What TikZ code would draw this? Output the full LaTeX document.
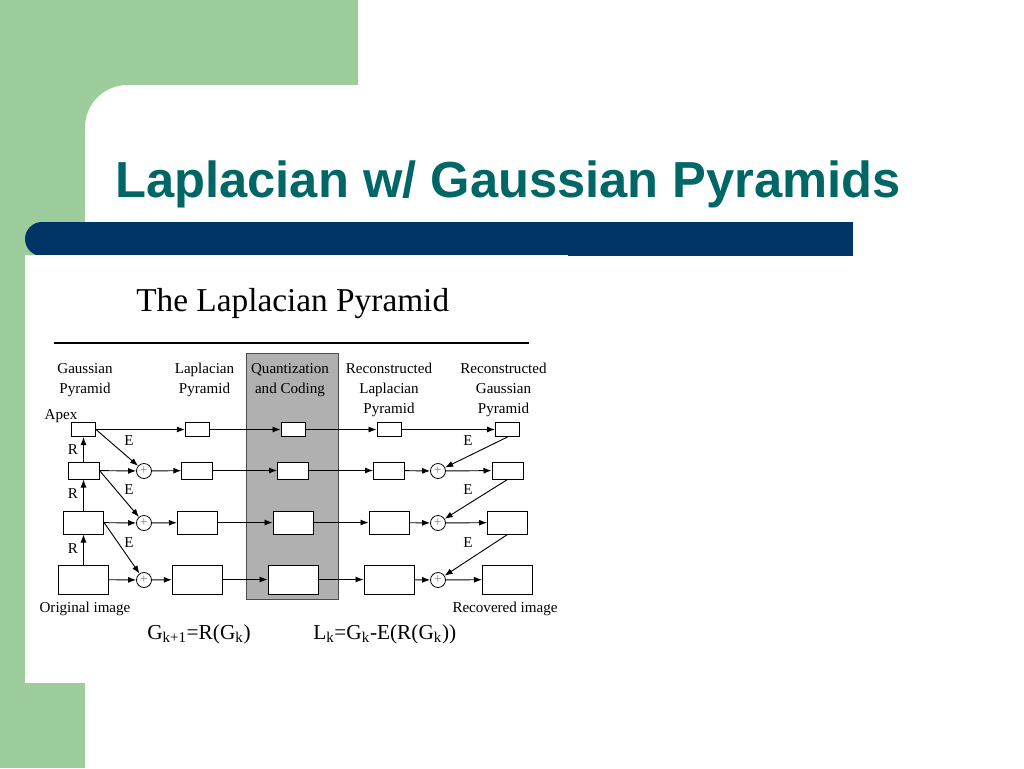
\documentclass[tikz,border=0pt]{standalone}
\usepackage{fontspec}
\setmainfont{Liberation Serif}
\newfontfamily\titlefont{Liberation Sans}
\usetikzlibrary{arrows.meta}
\definecolor{bggreen}{RGB}{157,205,157}
\definecolor{navy}{RGB}{0,51,102}
\definecolor{titleteal}{RGB}{0,102,102}
\definecolor{qgray}{RGB}{176,176,176}
\begin{document}
\begin{tikzpicture}[x=0.75pt,y=-0.75pt,
  lbl/.style={font=\fontsize{11.3}{15}\selectfont, inner sep=0pt},
  hdr/.style={lbl, anchor=base, align=center},
  box/.style={draw, fill=white, line width=0.75pt, inner sep=0pt},
  b0/.style={box, minimum width=18pt, minimum height=10.5pt},
  b1/.style={box, minimum width=23.25pt, minimum height=12.75pt},
  b2/.style={box, minimum width=30pt, minimum height=17.25pt},
  b3/.style={box, minimum width=37.5pt, minimum height=21.75pt},
  sumnode/.style={draw, circle, fill=white, line width=0.6pt, minimum size=11.25pt, inner sep=0pt, font=\fontsize{10}{10}\selectfont, text=gray},
  arr/.style={line width=0.7pt, -{Latex[length=6pt,width=4.5pt]}}
]
\useasboundingbox (0,0) rectangle (1024,768);
\clip (0,0) rectangle (1024,768);
% background
\fill[white] (0,0) rectangle (1024,768);
\fill[bggreen] (0,0) rectangle (358,85);
\fill[bggreen] (0,0) rectangle (85,768);
% green fillet at the inner corner of the white area
\fill[bggreen] (84,84) -- (127,84) -- (127,85) .. controls (104,85) and (85,104) .. (85,127) -- (84,127) -- cycle;
% navy bar
\fill[navy] (42,222) rectangle (853,256);
\fill[navy] (42,239) circle[radius=12.75pt];
% pasted figure area
\fill[white] (25,255) rectangle (568,683);
% title
\node[anchor=base west, inner sep=0pt, text=titleteal, font=\titlefont\fontsize{38}{40}\selectfont\bfseries] (title) at (115,197) {Laplacian w/ Gaussian Pyramids};
% figure title and rule
\node[anchor=base west, inner sep=0pt, font=\fontsize{25}{28}\selectfont] (ftitle) at (136,311) {The Laplacian Pyramid};
\draw[line width=1.1pt] (54,343) -- (529,343);
% gray column
\draw[fill=qgray, draw=black!70, line width=0.7pt] (246,353) rectangle (338,599);
% headers (base = last line)
\node[hdr] (hg) at (85,393) {Gaussian\\Pyramid};
\node[hdr] (hl) at (204.5,393) {Laplacian\\Pyramid};
\node[hdr] (hq) at (290,393) {Quantization\\and Coding};
\node[hdr] (hrl) at (389,413) {Reconstructed\\Laplacian\\Pyramid};
\node[hdr] (hrg) at (503.5,413) {Reconstructed\\Gaussian\\Pyramid};
% boxes
\node[b0] (g0) at (83.5,429.5) {};
\node[b1] (g1) at (83.5,470.5) {};
\node[b2] (g2) at (83.5,522.5) {};
\node[b3] (g3) at (83.5,579.5) {};
\node[b0] (l0) at (197.3,429.5) {};
\node[b1] (l1) at (197.3,470.5) {};
\node[b2] (l2) at (197.3,522.5) {};
\node[b3] (l3) at (197.3,579.5) {};
\node[b0] (q0) at (293,429.5) {};
\node[b1] (q1) at (293,470.5) {};
\node[b2] (q2) at (293,522.5) {};
\node[b3] (q3) at (293,579.5) {};
\node[b0] (rl0) at (389,429.5) {};
\node[b1] (rl1) at (389,470.5) {};
\node[b2] (rl2) at (389,522.5) {};
\node[b3] (rl3) at (389,579.5) {};
\node[b0] (rg0) at (507.5,429.5) {};
\node[b1] (rg1) at (507.5,470.5) {};
\node[b2] (rg2) at (507.5,522.5) {};
\node[b3] (rg3) at (507.5,579.5) {};
\node[sumnode] (p1) at (144,471) {+};
\node[sumnode] (p2) at (144,523) {+};
\node[sumnode] (p3) at (144,580) {+};
\node[sumnode] (pr1) at (438,471) {+};
\node[sumnode] (pr2) at (438,523) {+};
\node[sumnode] (pr3) at (438,580) {+};
% row 0
\draw[arr] (g0) -- (l0);
\draw[arr] (l0) -- (q0);
\draw[arr] (q0) -- (rl0);
\draw[arr] (rl0) -- (rg0);
% rows 1-3
\foreach \k in {1,2,3}{
  \draw[arr] (g\k) -- (p\k);
  \draw[arr] (p\k) -- (l\k);
  \draw[arr] (l\k) -- (q\k);
  \draw[arr] (q\k) -- (rl\k);
  \draw[arr] (rl\k) -- (pr\k);
  \draw[arr] (pr\k) -- (rg\k);
}
% R arrows
\draw[arr] (g1) -- (g0);
\draw[arr] (g2) -- (g1);
\draw[arr] (g3) -- (g2);
% E arrows
\draw[arr] (g0.east) -- (p1);
\draw[arr] (g1.east) -- (p2);
\draw[arr] (g2.east) -- (p3);
\draw[arr] (rg0.south) -- (pr1);
\draw[arr] (rg1.south) -- (pr2);
\draw[arr] (rg2.south) -- (pr3);
% labels
\node[lbl] (apex) at (61,416) {Apex};
\node[lbl] (r1) at (73,450) {R};
\node[lbl] (r2) at (73,494) {R};
\node[lbl] (r3) at (73,549) {R};
\node[lbl] (e1) at (129,441) {E};
\node[lbl] (e2) at (129,490) {E};
\node[lbl] (e3) at (129,543) {E};
\node[lbl] (e4) at (468,441) {E};
\node[lbl] (e5) at (468,490) {E};
\node[lbl] (e6) at (468,543) {E};
\node[lbl, anchor=base] (orig) at (85,612) {Original image};
\node[lbl, anchor=base] (recov) at (505,612) {Recovered image};
\node[anchor=base west, inner sep=0pt, font=\fontsize{16}{18}\selectfont] (f1) at (147,639) {G\textsubscript{k+1}=R(G\textsubscript{k})};
\node[anchor=base west, inner sep=0pt, font=\fontsize{16}{18}\selectfont] (f2) at (313,639) {L\textsubscript{k}=G\textsubscript{k}-E(R(G\textsubscript{k}))};
\end{tikzpicture}
\end{document}
